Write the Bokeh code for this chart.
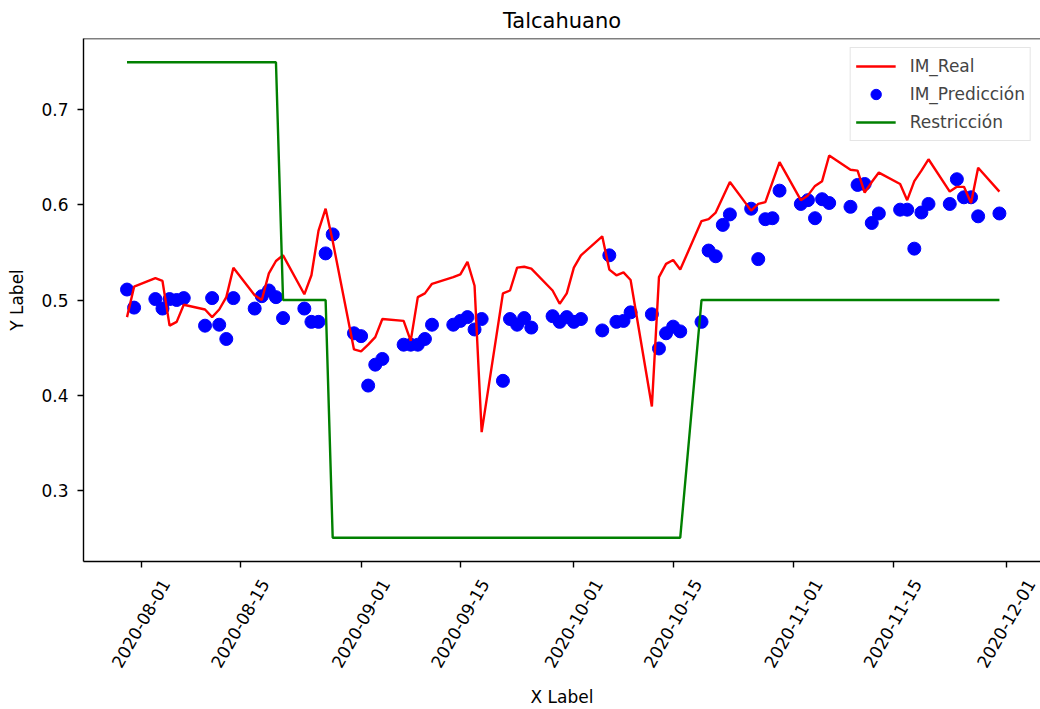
import math
from datetime import datetime, timedelta
import pandas as pd
from bokeh.plotting import figure
from bokeh.models import (ColumnDataSource, Range1d, FixedTicker, Span, Legend, LegendItem,
                          DatetimeAxis, DatetimeTickFormatter, CustomJSTickFormatter)
from bokeh.embed import file_html
from bokeh.resources import INLINE

# Datos: un valor por día hábil, del 2020-07-30 al 2020-11-30
fechas = pd.bdate_range("2020-07-30", "2020-11-30")

im_real = [
    0.482, 0.514,
    0.523, 0.520, 0.473, 0.477, 0.495,
    0.490, 0.482, 0.490, 0.503, 0.534,
    0.505, 0.500, 0.528, 0.541, 0.547,
    0.506, 0.526, 0.573, 0.596, 0.562,
    0.448, 0.446, 0.453, 0.461, 0.480,
    0.478, 0.457, 0.503, 0.507, 0.517,
    0.524, 0.527, 0.540, 0.515, 0.361,
    0.507, 0.510, 0.534, 0.535, 0.533,
    0.510, 0.496, 0.507, 0.534, 0.547,
    0.567, 0.532, 0.526, 0.529, 0.521,
    0.388, 0.524, 0.538, 0.542, 0.532,
    0.583, 0.585, 0.592, 0.608, 0.624,
    0.594, 0.601, 0.603, 0.624, 0.645,
    0.605, 0.610, 0.620, 0.625, 0.652,
    0.637, 0.636, 0.613, 0.624, 0.634,
    0.622, 0.605, 0.625, 0.636, 0.648,
    0.614, 0.619, 0.619, 0.602, 0.639,
    0.614,
]

im_prediccion = [
    0.511, 0.492,
    0.501, 0.491, 0.501, 0.500, 0.502,
    0.473, 0.502, 0.474, 0.459, 0.502,
    0.491, 0.504, 0.510, 0.503, 0.481,
    0.491, 0.477, 0.477, 0.549, 0.569,
    0.465, 0.462, 0.410, 0.432, 0.438,
    0.453, 0.453, 0.453, 0.459, 0.474,
    0.474, 0.478, 0.482, 0.469, 0.480,
    0.415, 0.480, 0.474, 0.481, 0.471,
    0.483, 0.477, 0.482, 0.477, 0.480,
    0.468, 0.547, 0.477, 0.478, 0.487,
    0.485, 0.449, 0.465, 0.472, 0.467,
    0.477, 0.552, 0.546, 0.579, 0.590,
    0.596, 0.543, 0.585, 0.586, 0.615,
    0.601, 0.605, 0.586, 0.606, 0.602,
    0.598, 0.621, 0.622, 0.581, 0.591,
    0.595, 0.595, 0.554, 0.592, 0.601,
    0.601, 0.627, 0.608, 0.608, 0.588,
    0.591,
]

restriccion = [0.75] * 16 + [0.5] * 5 + [0.25] * 36 + [0.5] * 31

ticks_x = ["2020-08-01", "2020-08-15", "2020-09-01", "2020-09-15", "2020-10-01",
           "2020-10-15", "2020-11-01", "2020-11-15", "2020-12-01"]
ticks_y = [0.3, 0.4, 0.5, 0.6, 0.7]

Y_MIN, Y_MAX = 0.225, 0.775
X_START, X_END = datetime(2020, 7, 23, 20, 46), datetime(2020, 12, 5, 19, 0)

source = ColumnDataSource(dict(fecha=fechas, real=im_real, pred=im_prediccion, restr=restriccion))
ticks_ms = [pd.Timestamp(t).timestamp() * 1000 for t in ticks_x]

FONT = "DejaVu Sans"
FS = "17px"

p = figure(width=1040, height=709, x_axis_type="datetime",
           x_range=Range1d(X_START, X_END), y_range=Range1d(Y_MIN, Y_MAX),
           title="Talcahuano", output_backend="svg", toolbar_location=None,
           min_border_left=83, min_border_right=0, min_border_top=37, min_border_bottom=146)

p.title.align = "center"
p.title.text_font = FONT
p.title.text_font_size = "21px"
p.title.text_font_style = "normal"
p.title.text_color = "black"
p.title.standoff = 12
p.grid.visible = False
p.outline_line_color = None

# spine superior (el derecho queda fuera de la imagen original)
p.add_layout(Span(location=Y_MAX, dimension="width", line_color="black", line_width=1.4))

# Glyphs
gl_pred = p.scatter("fecha", "pred", source=source, size=13, color="blue")
gl_real = p.line("fecha", "real", source=source, line_width=2.4, color="red")
gl_restr = p.line("fecha", "restr", source=source, line_width=2.4, color="green")

# Ejes: el eje principal dibuja la línea y los ticks
p.xaxis.ticker = FixedTicker(ticks=ticks_ms)
p.xaxis.formatter = CustomJSTickFormatter(code="return ''")
p.xaxis.major_label_standoff = 0
p.yaxis.ticker = FixedTicker(ticks=ticks_y)
p.yaxis.axis_label = "Y Label"

for ax in (p.xaxis, p.yaxis):
    ax.axis_line_color = "black"
    ax.axis_line_width = 1.4
    ax.major_tick_line_color = "black"
    ax.major_tick_line_width = 1.4
    ax.major_tick_out = 6
    ax.major_tick_in = 0
    ax.minor_tick_line_color = None
    ax.major_label_text_font = FONT
    ax.major_label_text_font_size = FS
    ax.major_label_text_color = "black"
    ax.axis_label_text_font = FONT
    ax.axis_label_text_font_size = FS
    ax.axis_label_text_font_style = "normal"
    ax.axis_label_text_color = "black"
p.yaxis.major_label_standoff = 9
p.yaxis.axis_label_standoff = 11

# segundo eje solo con las fechas: rango desplazado unos px para que cada
# etiqueta girada quede centrada bajo su tick, como en matplotlib
desfase = timedelta(days=3.4)
p.extra_x_ranges = {"etiquetas": Range1d(X_START - desfase, X_END - desfase)}
fmt = "%Y-%m-%d"
eje_fechas = DatetimeAxis(x_range_name="etiquetas", ticker=FixedTicker(ticks=ticks_ms),
                          formatter=DatetimeTickFormatter(days=fmt, months=fmt, years=fmt, hours=fmt),
                          major_label_orientation=math.pi / 3, major_label_standoff=13,
                          axis_line_color=None, major_tick_line_color=None,
                          major_tick_out=0, major_tick_in=0, minor_tick_line_color=None,
                          major_label_text_font=FONT, major_label_text_font_size=FS,
                          major_label_text_color="black",
                          axis_label="X Label", axis_label_standoff=11,
                          axis_label_text_font=FONT, axis_label_text_font_size=FS,
                          axis_label_text_font_style="normal", axis_label_text_color="black")
p.add_layout(eje_fechas, "below")

# Leyenda
legend = Legend(items=[LegendItem(label="IM_Real", renderers=[gl_real]),
                       LegendItem(label="IM_Predicción", renderers=[gl_pred]),
                       LegendItem(label="Restricción", renderers=[gl_restr])],
                location="top_right", margin=9, padding=5, spacing=2,
                glyph_width=40, glyph_height=26, label_height=20, label_standoff=14,
                label_text_font=FONT, label_text_font_size=FS,
                border_line_color="#cccccc", border_line_width=1,
                background_fill_alpha=0.8)
p.add_layout(legend)

open("out.html", "w").write(file_html(p, INLINE))
